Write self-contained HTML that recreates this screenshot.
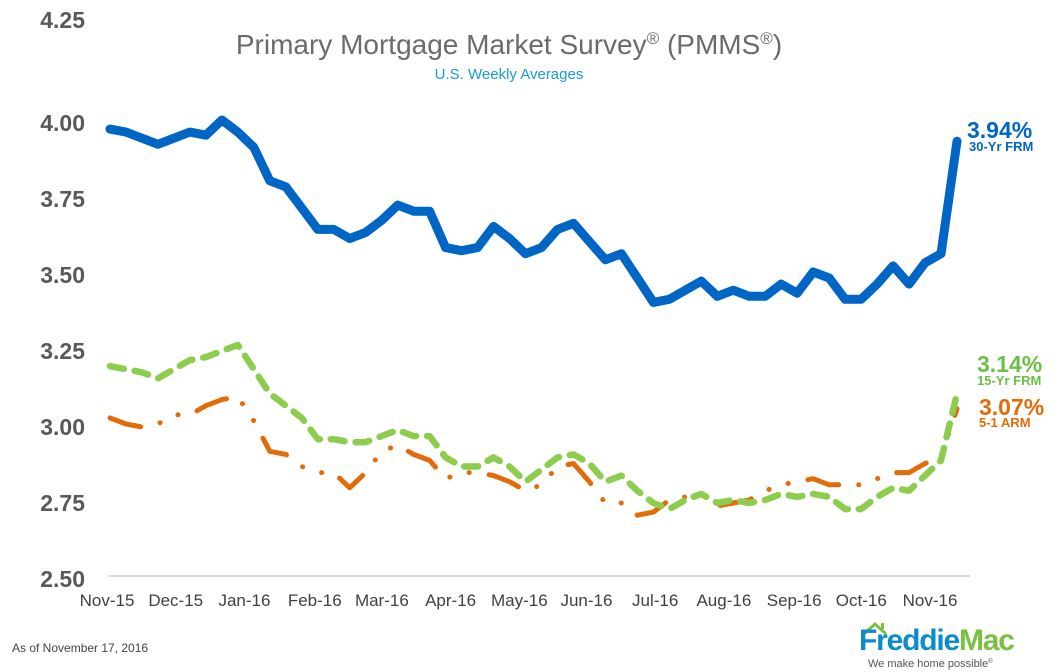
<!DOCTYPE html>
<html><head><meta charset="utf-8">
<style>
html,body{margin:0;padding:0;background:#fff;}
svg{display:block;font-family:"Liberation Sans",Arial,sans-serif;}
</style></head>
<body>
<svg id="chart" width="1060" height="672" viewBox="0 0 1060 672">
  <text x="509" y="54" text-anchor="middle" font-size="28" fill="#6b6b6b">Primary Mortgage Market Survey<tspan font-size="17" dy="-10">®</tspan><tspan dy="10"> (PMMS</tspan><tspan font-size="17" dy="-10">®</tspan><tspan dy="10">)</tspan></text>
  <text x="509" y="79" text-anchor="middle" font-size="15" fill="#1a9ad6">U.S. Weekly Averages</text>
  <line x1="108" y1="576" x2="970" y2="576" stroke="#d0d0d0" stroke-width="1.5"/>
  <g id="yticks"></g>
  <g id="xticks"></g>
  <g id="series"></g>

  <g>
    <text x="967" y="138" font-size="23" font-weight="bold" fill="#0066c6">3.94%</text>
    <text x="969" y="151" font-size="13" font-weight="bold" fill="#0066c6">30-Yr FRM</text>
  </g>
  <g>
    <text x="977" y="372" font-size="23" font-weight="bold" fill="#6cbf45">3.14%</text>
    <text x="977" y="385" font-size="13" font-weight="bold" fill="#6cbf45">15-Yr FRM</text>
  </g>
  <g>
    <text x="979" y="415" font-size="23" font-weight="bold" fill="#e36c0a">3.07%</text>
    <text x="979" y="427" font-size="13" font-weight="bold" fill="#e36c0a">5-1 ARM</text>
  </g>

  <text x="12" y="652" font-size="12" fill="#444">As of November 17, 2016</text>
  <g>
    <path d="M864 634 L875 624 L886 634" fill="none" stroke="#7ac142" stroke-width="3"/>
    <rect x="881" y="623" width="3" height="6" fill="#7ac142"/>
    <text x="859" y="650" font-size="30" font-weight="bold" fill="#0a8ccd" letter-spacing="-1.2">Freddie<tspan fill="#7ac142">Mac</tspan></text>
    <text x="868" y="667" font-size="11" fill="#555">We make home possible<tspan font-size="6" dy="-4">®</tspan></text>
  </g>
</svg>
<script>
const yTickValues = [2.50, 2.75, 3.00, 3.25, 3.50, 3.75, 4.00, 4.25];
const yTickLabels = ["2.50","2.75","3.00","3.25","3.50","3.75","4.00","4.25"];
const monthLabels = ["Nov-15","Dec-15","Jan-16","Feb-16","Mar-16","Apr-16","May-16","Jun-16","Jul-16","Aug-16","Sep-16","Oct-16","Nov-16"];
const monthWeekIndex = [0,4.3,8.6,13,17.2,21.5,25.8,30,34.3,38.6,43,47.2,51.5];
const frm30 = [3.98,3.97,3.95,3.93,3.95,3.97,3.96,4.01,3.97,3.92,3.81,3.79,3.72,3.65,3.65,3.62,3.64,3.68,3.73,3.71,3.71,3.59,3.58,3.59,3.66,3.62,3.57,3.59,3.65,3.67,3.61,3.55,3.57,3.49,3.41,3.42,3.45,3.48,3.43,3.45,3.43,3.43,3.47,3.44,3.51,3.49,3.42,3.42,3.47,3.53,3.47,3.54,3.57,3.94];
const frm15 = [3.20,3.19,3.18,3.16,3.19,3.22,3.23,3.25,3.27,3.19,3.11,3.07,3.03,2.96,2.96,2.95,2.95,2.97,2.99,2.97,2.97,2.90,2.87,2.87,2.90,2.87,2.82,2.86,2.90,2.91,2.88,2.82,2.84,2.79,2.75,2.73,2.76,2.78,2.75,2.76,2.75,2.76,2.78,2.77,2.78,2.77,2.73,2.73,2.77,2.80,2.79,2.84,2.89,3.11];
const arm51 = [3.03,3.01,3.00,3.01,3.04,3.04,3.07,3.09,3.10,3.02,2.92,2.91,2.87,2.85,2.85,2.80,2.85,2.92,2.94,2.91,2.89,2.83,2.85,2.85,2.84,2.82,2.79,2.81,2.87,2.88,2.82,2.75,2.75,2.71,2.72,2.76,2.77,2.78,2.74,2.75,2.76,2.79,2.81,2.82,2.83,2.81,2.81,2.81,2.83,2.85,2.85,2.88,2.90,3.06];

const NS = "http://www.w3.org/2000/svg";
const x0 = 110, x1 = 957;
function xScale(i){ return x0 + i * (x1 - x0) / (frm30.length - 1); }
function yScale(v){ return 123 + (4.00 - v) * 304; }

const yg = document.getElementById('yticks');
yTickValues.forEach((v, k) => {
  const t = document.createElementNS(NS, 'text');
  
  
  t.setAttribute('x', 85);
  t.setAttribute('y', v > 4.1 ? 28 : yScale(v) + 8);
  t.setAttribute('text-anchor', 'end');
  t.setAttribute('font-size', '23');
  t.setAttribute('font-weight', 'bold');
  t.setAttribute('fill', '#595959');
  t.textContent = yTickLabels[k];
  yg.appendChild(t);
});

const xg = document.getElementById('xticks');
monthLabels.forEach((m, k) => {
  const t = document.createElementNS(NS, 'text');
  
  
  t.setAttribute('x', xScale(monthWeekIndex[k]) - 3);
  t.setAttribute('y', 606);
  t.setAttribute('text-anchor', 'middle');
  t.setAttribute('font-size', '17');
  t.setAttribute('fill', '#404040');
  t.textContent = m;
  xg.appendChild(t);
});

function pathFor(arr){
  return arr.map((v, i) => (i ? 'L' : 'M') + xScale(i).toFixed(1) + ' ' + yScale(v).toFixed(1)).join(' ');
}
const sg = document.getElementById('series');
function addLine(arr, name, color, width, dash){
  const p = document.createElementNS(NS, 'path');
  
  
  p.setAttribute('d', pathFor(arr));
  p.setAttribute('fill', 'none');
  p.setAttribute('stroke', color);
  p.setAttribute('stroke-width', width);
  p.setAttribute('stroke-linecap', 'round');
  p.setAttribute('stroke-linejoin', 'round');
  if (dash) p.setAttribute('stroke-dasharray', dash);
  sg.appendChild(p);
}
addLine(arm51, 'arm-5-1-line', '#e36c0a', 5, '32 20 0.1 20 0.1 20');
addLine(frm15, 'frm-15yr-line', '#8dcd4e', 6.5, '14 11');
addLine(frm30, 'frm-30yr-line', '#0066c6', 9, null);
</script>
</body></html>
